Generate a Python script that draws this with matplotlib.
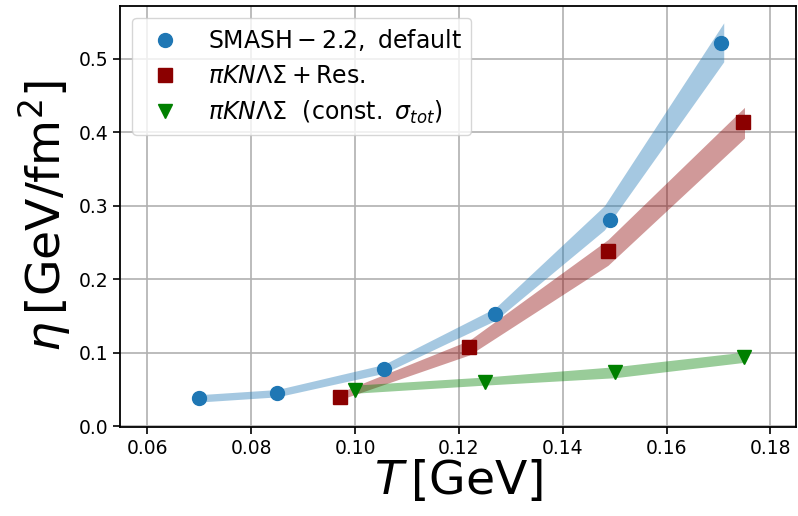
import numpy as np
import matplotlib
matplotlib.use('Agg')
import matplotlib.pyplot as plt

# shear viscosity eta vs temperature T
T_smash = [0.070, 0.085, 0.1055, 0.127, 0.149, 0.1705]
eta_smash = [0.038, 0.045, 0.078, 0.153, 0.281, 0.522]
T_res = [0.097, 0.122, 0.1487, 0.1748]
eta_res = [0.040, 0.108, 0.238, 0.414]
T_const = [0.100, 0.125, 0.150, 0.175]
eta_const = [0.049, 0.060, 0.074, 0.094]

# uncertainty bands
band_T_smash = [0.070, 0.085, 0.1055, 0.127, 0.148, 0.171]
band_lo_smash = [0.033, 0.040, 0.072, 0.144, 0.267, 0.496]
band_hi_smash = [0.043, 0.050, 0.084, 0.161, 0.300, 0.549]
band_T_res = [0.097, 0.122, 0.1487, 0.175]
band_lo_res = [0.036, 0.097, 0.219, 0.392]
band_hi_res = [0.046, 0.117, 0.254, 0.434]
band_T_const = [0.100, 0.125, 0.150, 0.175]
band_lo_const = [0.045, 0.056, 0.066, 0.087]
band_hi_const = [0.056, 0.067, 0.081, 0.101]

fig = plt.figure(figsize=(7.98, 5.16), dpi=100)
ax = fig.add_axes([0.151, 0.1725, 0.847, 0.816])

ax.fill_between(band_T_smash, band_lo_smash, band_hi_smash, color='tab:blue', alpha=0.4, lw=0)
ax.fill_between(band_T_res, band_lo_res, band_hi_res, color='darkred', alpha=0.4, lw=0)
ax.fill_between(band_T_const, band_lo_const, band_hi_const, color='green', alpha=0.4, lw=0)

ax.plot(T_smash, eta_smash, 'o', color='tab:blue', ms=10, ls='none',
        label=r'$\mathrm{SMASH-2.2,\ default}$')
ax.plot(T_res, eta_res, 's', color='darkred', ms=10, ls='none',
        label=r'$\pi KN\Lambda\Sigma + \mathrm{Res.}$')
ax.plot(T_const, eta_const, 'v', color='green', ms=10, ls='none',
        label=r'$\pi KN\Lambda\Sigma\ \ \mathrm{(const.}\ \sigma_{tot})$')

ax.set_xlim(0.0548, 0.185)
ax.set_ylim(-0.001, 0.572)
ax.set_xticks([0.06, 0.08, 0.10, 0.12, 0.14, 0.16, 0.18])
ax.set_yticks([0.0, 0.1, 0.2, 0.3, 0.4, 0.5])
ax.tick_params(labelsize=13.5, length=5, width=1.2)
for sp in ax.spines.values():
    sp.set_linewidth(1.3)
ax.grid(True, lw=1.2)
ax.set_axisbelow(True)

ax.set_xlabel(r'$T\,[\mathrm{GeV}]$', fontsize=34, labelpad=0)
ax.set_ylabel(r'$\eta\,[\mathrm{GeV/fm^2}]$', fontsize=34, labelpad=4)
ax.legend(loc='upper left', fontsize=17, labelspacing=0.45)

fig.savefig('out.png', dpi=100)
